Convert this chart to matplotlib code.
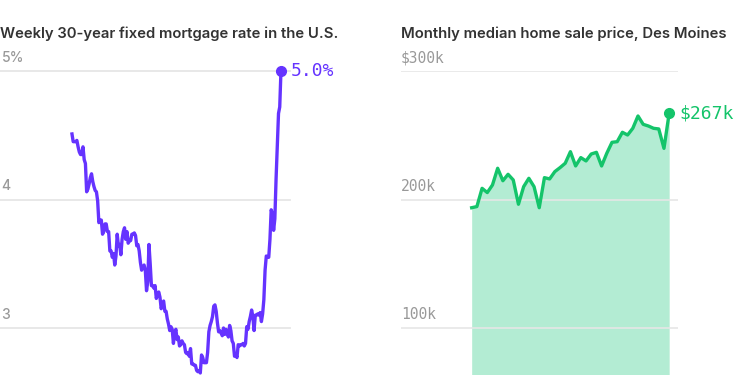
import numpy as np
import matplotlib.pyplot as plt

# weekly 30-year fixed rate, Jan 3 2019 .. Apr 14 2022 (%)
mortgage_rate = [
    4.51, 4.45, 4.45, 4.45, 4.46, 4.41, 4.37, 4.35, 4.35, 4.41, 4.31, 4.28, 4.06,
    4.08, 4.12, 4.17, 4.20, 4.14, 4.10, 4.07, 4.06, 3.99, 3.82, 3.84, 3.84, 3.73,
    3.75, 3.81, 3.81, 3.75, 3.75, 3.60, 3.60, 3.55, 3.58, 3.49, 3.56, 3.73, 3.64,
    3.65, 3.57, 3.69, 3.75, 3.78, 3.69, 3.75, 3.66, 3.68, 3.68, 3.73, 3.73, 3.74,
    # 2020
    3.72, 3.64, 3.65, 3.60, 3.51, 3.45, 3.47, 3.49, 3.45, 3.29, 3.36, 3.65, 3.50,
    3.33, 3.33, 3.31, 3.33, 3.23, 3.26, 3.28, 3.24, 3.15, 3.18, 3.21, 3.13, 3.13,
    3.07, 3.03, 2.98, 3.01, 2.99, 2.88, 2.96, 2.99, 2.91, 2.93, 2.86, 2.87, 2.90,
    2.88, 2.87, 2.81, 2.80, 2.81, 2.78, 2.84, 2.72, 2.72, 2.71, 2.71, 2.67, 2.66, 2.67,
    # 2021
    2.65, 2.79, 2.77, 2.73, 2.73, 2.73, 2.81, 2.97, 3.02, 3.05, 3.09, 3.17, 3.18,
    3.13, 3.04, 2.97, 2.98, 2.96, 2.94, 3.00, 2.95, 2.99, 2.96, 2.93, 3.02, 2.98,
    2.90, 2.88, 2.78, 2.80, 2.77, 2.87, 2.86, 2.87, 2.87, 2.88, 2.86, 2.88, 3.01,
    2.99, 3.05, 3.09, 3.14, 3.09, 2.98, 3.10, 3.10, 3.11, 3.10, 3.12, 3.05, 3.11,
    # 2022
    3.22, 3.45, 3.56, 3.55, 3.55, 3.69, 3.92, 3.89, 3.76, 3.85, 4.16, 4.42, 4.67,
    4.72, 5.00,
]

# monthly median sale price, Des Moines, Jan 2019 .. Mar 2022 ($k)
home_price = [
    193.6, 194.5, 208.7, 205.4, 211.3, 224.3, 214.6, 219.6, 215.2, 196.3, 210.0, 216.5,
    210.0, 193.6, 217.0, 216.0, 221.7, 224.8, 228.2, 237.2, 226.1, 232.6, 230.0, 235.4,
    236.7, 226.1, 236.0, 244.5, 245.0, 252.3, 250.2, 255.4, 265.0, 258.5, 257.2, 255.4,
    254.9, 239.8, 267.1,
]

left_title = "Weekly 30-year fixed mortgage rate in the U.S."
right_title = "Monthly median home sale price, Des Moines"
rate_ticks = [3, 4, 5]
rate_tick_labels = ["3", "4", "5%"]
price_ticks = [100, 200, 300]
price_tick_labels = ["100k", "200k", "$300k"]

purple = "#6533ff"
green = "#14c46a"
fill_green = "#b3ecd3"
grid_c = "#e6e6e6"
tick_c = "#999999"
title_c = "#333333"
mono = "DejaVu Sans Mono"

W, H = 750, 375
fig = plt.figure(figsize=(7.5, 3.75), dpi=100)


def px_axes(x0, x1, ytop):
    return fig.add_axes([x0 / W, 0, (x1 - x0) / W, (H - ytop) / H])


def clean(ax):
    for s in ax.spines.values():
        s.set_visible(False)
    ax.set_xticks([])
    ax.set_yticks([])


# ---- left: mortgage rate
ax1 = px_axes(0, 290, 71)
clean(ax1)
ax1.set_xlim(-58.9, 178.4)
ax1.set_ylim(5 - 304 / 128.5, 5)
for t, lab in zip(rate_ticks, rate_tick_labels):
    ax1.axhline(t, color=grid_c, lw=1.3, zorder=0, clip_on=False)
    ax1.text(0.005, t + 0.05, lab, transform=ax1.get_yaxis_transform(),
             fontsize=10, color=tick_c, family="Inter", weight="medium",
             ha="left", va="bottom")
wk = np.arange(len(mortgage_rate))
ax1.plot(wk, mortgage_rate, color=purple, lw=2.4, solid_joinstyle="round", clip_on=False)
ax1.plot(wk[-1], mortgage_rate[-1], "o", color=purple, ms=7, clip_on=False)
ax1.annotate(f"{mortgage_rate[-1]:.1f}%", (wk[-1], mortgage_rate[-1]), xytext=(7, 0),
             textcoords="offset points", color=purple, fontsize=13, family=mono,
             va="center", ha="left", annotation_clip=False)

# ---- right: home price
ax2 = px_axes(401, 678, 71)
clean(ax2)
ax2.set_xlim(-13.6, 39.7)
ax2.set_ylim(300 - 30400 / 128.5, 300)
mo = np.arange(len(home_price))
ax2.fill_between(mo, 0, home_price, color=fill_green, lw=0, zorder=1)
for t, lab in zip(price_ticks, price_tick_labels):
    ax2.axhline(t, color=grid_c, lw=1.3, zorder=2, alpha=0.9)
    ax2.text(0.0, t + 4.5, lab, transform=ax2.get_yaxis_transform(),
             fontsize=10.5, color=tick_c, family=mono, ha="left", va="bottom")
ax2.plot(mo, home_price, color=green, lw=2.4, zorder=3, solid_joinstyle="round")
ax2.plot(mo[-1], home_price[-1], "o", color=green, ms=7, zorder=4, clip_on=False)
ax2.annotate(f"${home_price[-1]:.0f}k", (mo[-1], home_price[-1]), xytext=(7, 0),
             textcoords="offset points", color=green, fontsize=13, family=mono,
             va="center", ha="left", annotation_clip=False)

# titles
fig.text(0 / W, 1 - 34 / H, left_title, fontsize=10.7, color=title_c,
         family="Inter", weight="semibold", ha="left", va="center")
fig.text(401 / W, 1 - 34 / H, right_title, fontsize=10.7, color=title_c,
         family="Inter", weight="semibold", ha="left", va="center")

fig.savefig("out.png", dpi=100)
